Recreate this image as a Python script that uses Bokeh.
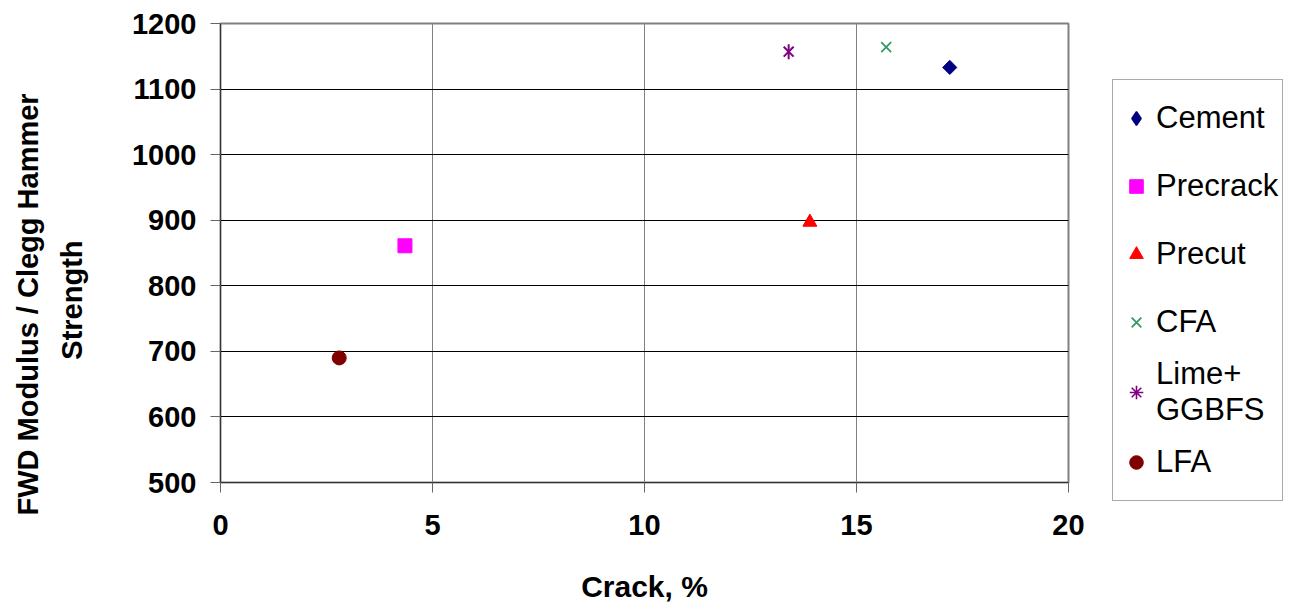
import math
from bokeh.plotting import figure
from bokeh.models import Legend, LegendItem, Range1d, FixedTicker, Title
from bokeh.embed import file_html
from bokeh.resources import INLINE

names = ["Cement", "Precrack", "Precut", "CFA", "Lime+\nGGBFS", "LFA"]
crack = [17.2, 4.35, 13.9, 15.7, 13.4, 2.8]
modulus = [1133, 861, 897, 1164, 1157, 690]
legend_markers = ["diamond", "square", "triangle", "x", "asterisk", "circle"]
colors = ["#000080", "#FF00FF", "#FF0000", "#339966", "#800080", "#800000"]

x_ticks = [0, 5, 10, 15, 20]
y_ticks = [500, 600, 700, 800, 900, 1000, 1100, 1200]

FONT = "Liberation Sans"

p = figure(width=1289, height=608, output_backend="svg", toolbar_location=None,
           x_range=Range1d(0, 20), y_range=Range1d(500, 1200),
           frame_width=848, frame_height=459,
           min_border_left=220, min_border_right=0, min_border_top=23, min_border_bottom=126)


def draw_point(name, x, y, c):
    """Marks as drawn in the plot area (shapes match the reference)."""
    if name == "Cement":
        return [p.scatter([x], [y], marker="square", size=10, angle=math.pi / 4,
                          fill_color=c, line_color=c)]
    if name.startswith("Lime"):
        return [p.scatter([x], [y], marker="x", size=14, line_color=c, line_width=2),
                p.scatter([x], [y], marker="dash", size=15, angle=math.pi / 2,
                          line_color=c, line_width=2)]
    m = {"Precrack": "square", "Precut": "triangle", "CFA": "x", "LFA": "circle"}[name]
    lw = 1.8 if m == "x" else 1
    return [p.scatter([x], [y], marker=m, size=14, fill_color=c, line_color=c, line_width=lw)]


items = []
for n, x, y, lm, c in zip(names, crack, modulus, legend_markers, colors):
    rs = draw_point(n, x, y, c)
    if n == "Cement" or n.startswith("Lime"):
        # legend-only glyph (legend ignores marker rotation)
        lr = p.scatter([x], [y], marker=lm, size=14, fill_color=c, line_color=c,
                       line_width=1.6, visible=False)
        items.append(LegendItem(label=n, renderers=[lr]))
    else:
        items.append(LegendItem(label=n, renderers=rs))

p.xaxis.ticker = FixedTicker(ticks=x_ticks)
p.yaxis.ticker = FixedTicker(ticks=y_ticks)
p.xaxis.axis_label = "Crack, %"
for ax in (p.xaxis, p.yaxis):
    ax.axis_label_text_font = FONT
    ax.axis_label_text_font_style = "bold"
    ax.axis_label_text_font_size = "30px"
    ax.major_label_text_font = FONT
    ax.major_label_text_font_style = "bold"
    ax.major_label_text_font_size = "29px"
    ax.major_label_text_color = "black"
    ax.axis_label_text_color = "black"
    ax.axis_line_color = "#333333"
    ax.major_tick_line_color = "#666666"
    ax.major_tick_out = 10
    ax.major_tick_in = 0
    ax.minor_tick_line_color = None
p.xaxis.major_label_standoff = 22
p.xaxis.axis_label_standoff = 32
p.yaxis.major_label_standoff = 14

t2 = Title(text="Strength", align="right", offset=217, text_font=FONT, text_color="black",
           text_font_style="bold", text_font_size="29px", standoff=82)
t1 = Title(text="FWD Modulus / Clegg Hammer", align="left", offset=-33, text_font=FONT,
           text_color="black", text_font_style="bold", text_font_size="29px", standoff=-63)
p.add_layout(t2, "left")
p.add_layout(t1, "left")

p.xgrid.grid_line_color = "#808080"
p.ygrid.grid_line_color = "#000000"
p.ygrid.grid_line_width = 1
p.outline_line_color = "#808080"
p.outline_line_width = 2

legend = Legend(items=items, location=(44, -19))
legend.label_text_font = FONT
legend.label_text_font_size = "31px"
legend.label_text_color = "black"
legend.label_height = 68
legend.glyph_height = 34
legend.glyph_width = 38
legend.label_standoff = 1
legend.spacing = 0
legend.padding = 4
legend.margin = 0
legend.border_line_color = "#555555"
legend.background_fill_alpha = 1
legend.inactive_fill_alpha = 0
p.add_layout(legend, "right")

open("out.html", "w").write(file_html(p, INLINE))
